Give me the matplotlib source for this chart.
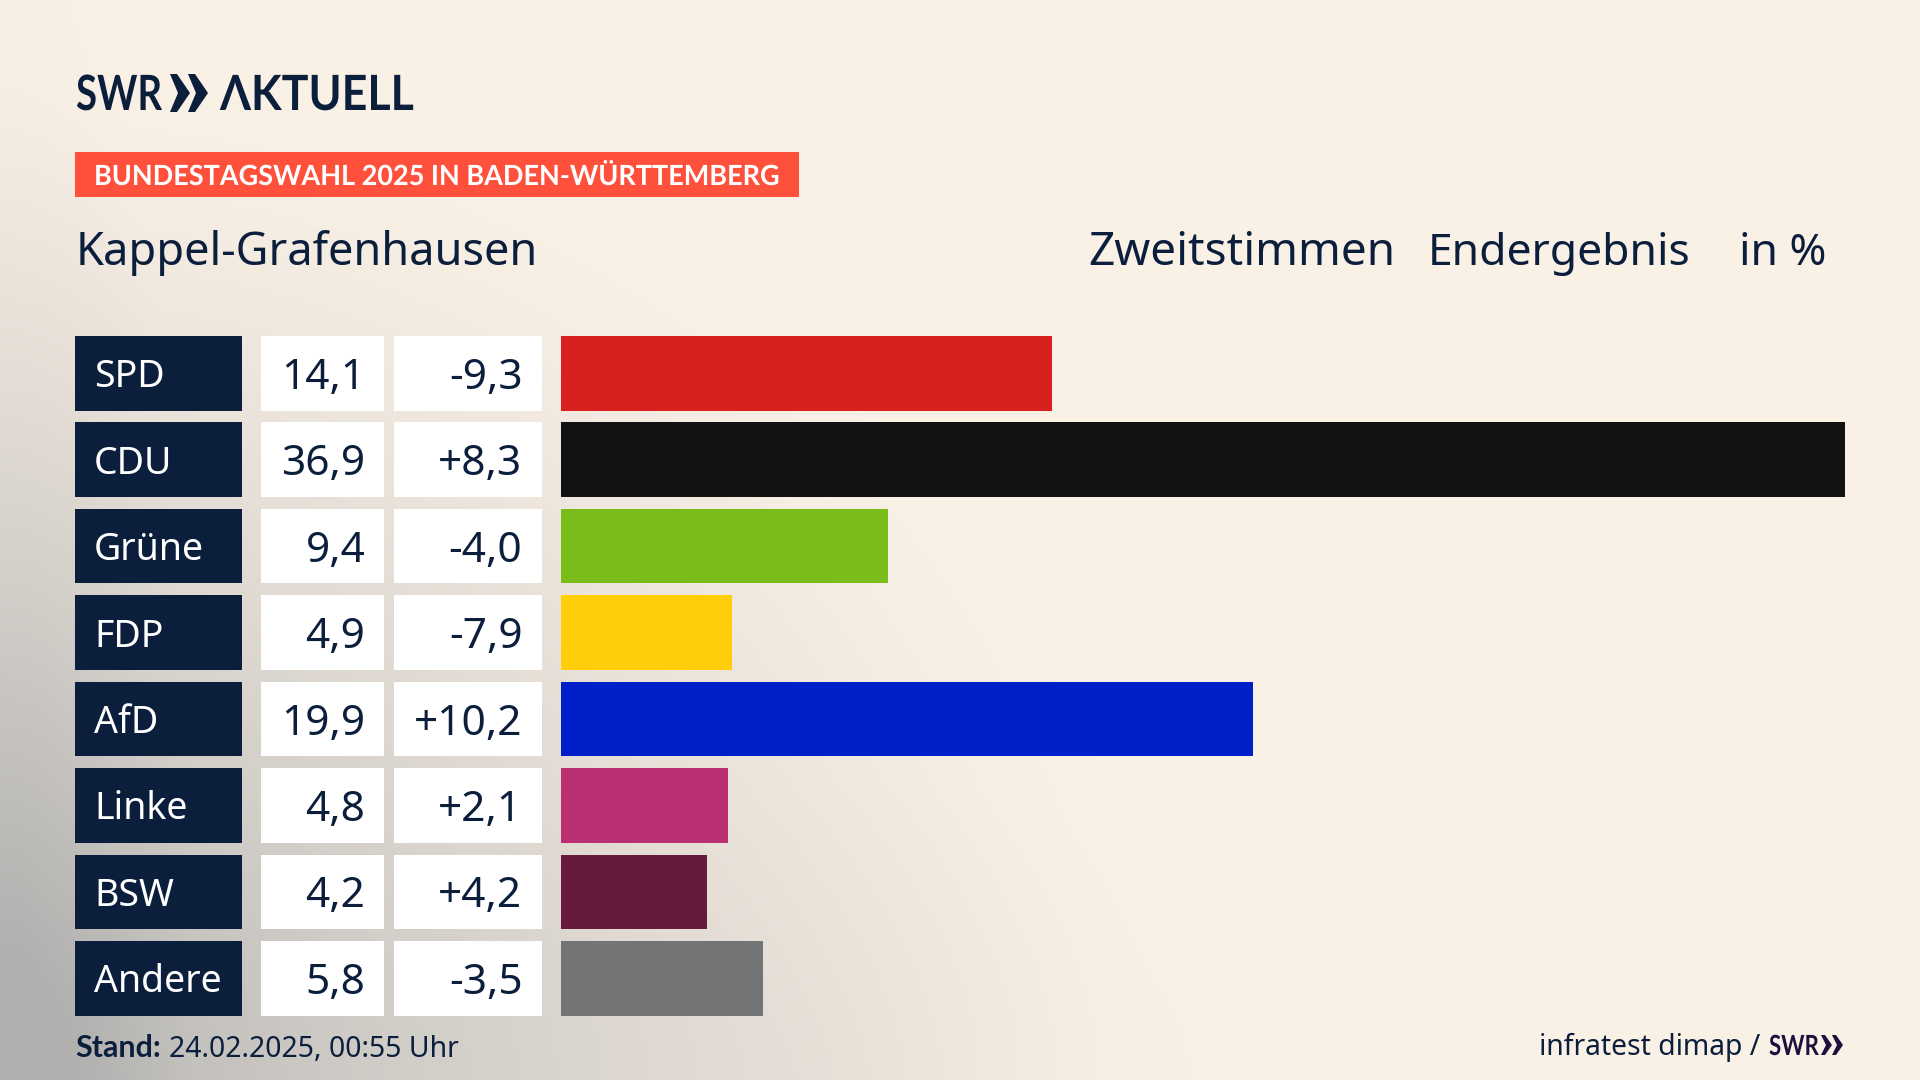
import numpy as np
import matplotlib
matplotlib.use("Agg")
import matplotlib.pyplot as plt
from matplotlib.patches import Polygon
from matplotlib.patheffects import AbstractPathEffect
from matplotlib.transforms import Affine2D

parties = ["SPD", "CDU", "Grüne", "FDP", "AfD", "Linke", "BSW", "Andere"]
shares = [14.1, 36.9, 9.4, 4.9, 19.9, 4.8, 4.2, 5.8]
changes = [-9.3, 8.3, -4.0, -7.9, 10.2, 2.1, 4.2, -3.5]
colors = ["#D8201E", "#121212", "#7ABD1A", "#FFCE09", "#001FC8", "#BA3073", "#661A3C", "#737476"]

NAVY = "#0B1F3D"
plt.rcParams["font.family"] = ["Noto Sans", "DejaVu Sans"]
BOLD = ["Lato", "DejaVu Sans"]


class Squeeze(AbstractPathEffect):
    """Condense a text horizontally about its own origin."""
    def __init__(self, sx):
        super().__init__()
        self.sx = sx

    def draw_path(self, renderer, gc, tpath, affine, rgbFace=None):
        renderer.draw_path(gc, tpath, Affine2D().scale(self.sx, 1) + affine, rgbFace)


def de(v, sign=False):
    s = f"{v:+.1f}" if sign else f"{v:.1f}"
    return s.replace(".", ",")


fig = plt.figure(figsize=(19.2, 10.8), dpi=100)

# page layer in pixel coordinates
page = fig.add_axes([0, 0, 1, 1])
page.set_xlim(0, 1920)
page.set_ylim(1080, 0)
page.axis("off")

# background
yy, xx = np.mgrid[0:1080:270j, 0:1920:480j]
d1 = np.sqrt((xx / 1150) ** 2 + ((1080 - yy) / 1000) ** 2)
t1 = np.clip(1 - d1, 0, 1) ** 1.25 * 0.92
d2 = np.sqrt((xx / 190) ** 2 + ((1080 - yy) / 1250) ** 2)
t2 = np.clip(1 - d2, 0, 1) * 0.24
d3 = np.sqrt(((xx - 800) / 500) ** 2 + ((1080 - yy) / 300) ** 2)
t3 = np.clip(1 - d3, 0, 1) * 0.08
t = np.clip(t1 + t2 + t3, 0, 1)[..., None]
cream = np.array([250, 241, 230]) / 255
grey = np.array([176, 176, 175]) / 255
page.imshow(cream * (1 - t) + grey * t, extent=(0, 1920, 1080, 0), aspect="auto", zorder=0, interpolation="bilinear")

# logo
page.text(76, 110, "SWR", fontsize=35, fontweight="bold", family=BOLD, color=NAVY, va="baseline", ha="left",
          path_effects=[Squeeze(0.79)])
for x0 in (170, 188):
    page.add_patch(Polygon([(x0, 74), (x0 + 7, 74), (x0 + 20, 93), (x0 + 7, 112), (x0, 112), (x0 + 8, 93)], color=NAVY, lw=0))
page.text(220, 110, "ΛKTUELL", fontsize=35, fontweight="bold", family=BOLD, color=NAVY, va="baseline", ha="left",
          path_effects=[Squeeze(0.92)])

# kicker
page.fill_between([75, 799], 152, 197, color="#FF503C", lw=0)
page.text(94, 185, "BUNDESTAGSWAHL 2025 IN BADEN-WÜRTTEMBERG", fontsize=20, fontweight="bold", family=BOLD,
          color="white", va="baseline", path_effects=[Squeeze(0.973)])

# header
page.text(76, 265, "Kappel-Grafenhausen", fontsize=32.5, color=NAVY, va="baseline")
page.text(1088, 265, "Zweitstimmen", fontsize=33, color=NAVY, va="baseline")
page.text(1428, 265, "Endergebnis", fontsize=32, color=NAVY, va="baseline")
page.text(1739, 265, "in %", fontsize=32, color=NAVY, va="baseline")

# rows
ROW0, PITCH, H = 373.3, 86.43, 74.6
for i, (p, s, c) in enumerate(zip(parties, shares, changes)):
    cy = ROW0 + PITCH * i
    page.fill_between([75, 242], cy - H / 2, cy + H / 2, color=NAVY, lw=0)
    page.fill_between([261, 384], cy - H / 2, cy + H / 2, color="white", lw=0)
    page.fill_between([394, 542], cy - H / 2, cy + H / 2, color="white", lw=0)
    page.text(94, cy + 14, p, fontsize=27, color="white", va="baseline")
    page.text(365.5, cy + 15.5, de(s), fontsize=30.5, color=NAVY, va="baseline", ha="right")
    page.text(522.5, cy + 15.5, de(c, True), fontsize=30.5, color=NAVY, va="baseline", ha="right")

# bars
ax = fig.add_axes([561 / 1920, 1 - (ROW0 + PITCH * 7 + H / 2) / 1080, 1284 / 1920, (PITCH * 7 + H) / 1080])
ax.patch.set_alpha(0)
ax.barh(range(len(parties)), shares, height=H / PITCH, color=colors, lw=0)
ax.set_xlim(0, 36.9)
ax.set_ylim(7 + H / PITCH / 2, -H / PITCH / 2)
ax.axis("off")

# footer
page.text(75, 1057, "Stand:", fontsize=22, fontweight="bold", family=BOLD, color=NAVY, va="baseline")
page.text(169, 1057, "24.02.2025, 00:55 Uhr", fontsize=20.4, color=NAVY, va="baseline")
page.text(1539, 1055.5, "infratest dimap /", fontsize=20.4, color=NAVY, va="baseline")
page.text(1769, 1055, "SWR", fontsize=20, fontweight="bold", family=BOLD, color="#1E0F3F", va="baseline",
          path_effects=[Squeeze(0.8)])
for x0 in (1821, 1832):
    page.add_patch(Polygon([(x0, 1035), (x0 + 4, 1035), (x0 + 11, 1045), (x0 + 4, 1055), (x0, 1055), (x0 + 5, 1045)], color="#1E0F3F", lw=0))

fig.savefig("out.png", dpi=100)
